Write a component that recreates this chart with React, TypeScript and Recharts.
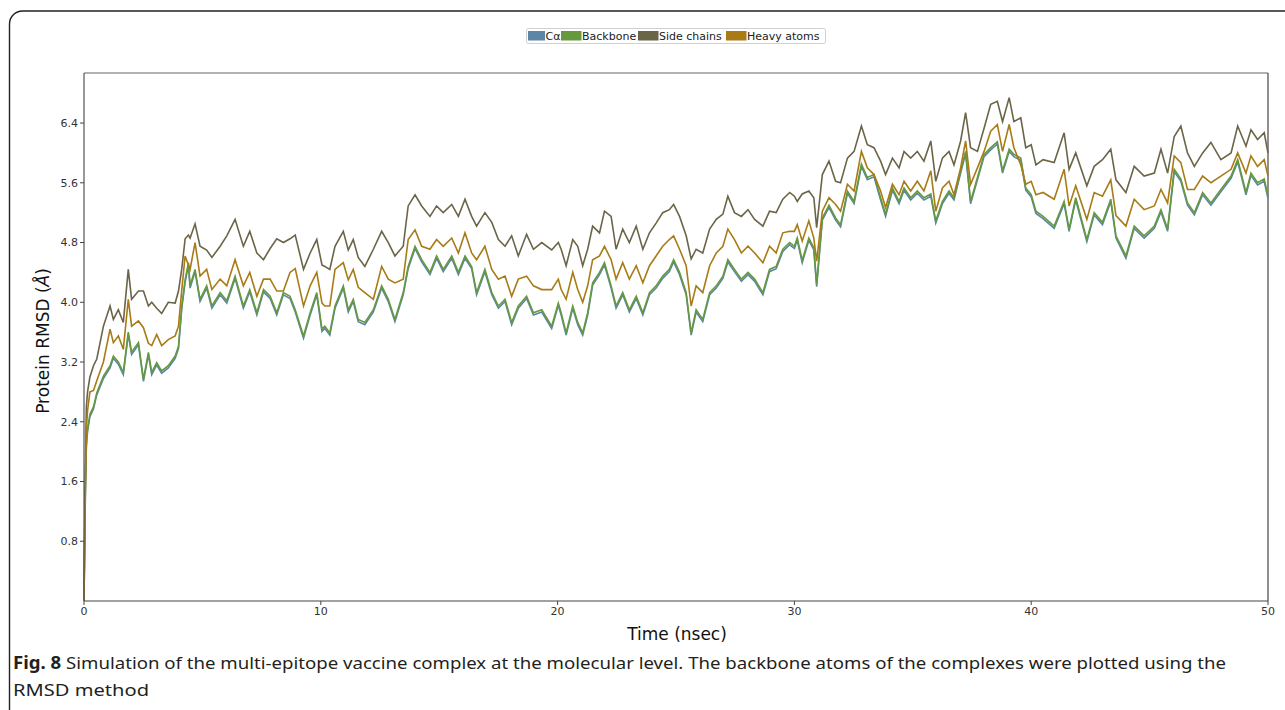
import React from 'react';
import { LineChart, Line, XAxis, YAxis, ReferenceLine } from 'recharts';

// Time (nsec)
const time = [
  0, 0.03, 0.06, 0.1, 0.15, 0.25, 0.4, 0.54, 0.82, 1.1,
  1.24, 1.45, 1.66, 1.87, 2.01, 2.3, 2.51, 2.72, 2.86, 3.07,
  3.28, 3.56, 3.85, 3.99, 4.13, 4.27, 4.41, 4.48, 4.69, 4.9,
  5.18, 5.4, 5.75, 6.03, 6.38, 6.73, 7.0, 7.3, 7.58, 7.86,
  8.14, 8.42, 8.7, 8.92, 9.27, 9.55, 9.83, 10.05,
  10.17, 10.38, 10.6, 10.95, 11.16, 11.37, 11.58, 11.86, 12.22, 12.57,
  12.85, 13.13, 13.48, 13.69, 13.98, 14.26, 14.61, 14.89, 15.17, 15.53,
  15.81, 16.09, 16.37, 16.58, 16.93, 17.22, 17.5, 17.78, 18.06, 18.34,
  18.69, 18.98, 19.33, 19.75, 20.03,
  20.15, 20.36, 20.64, 20.85, 21.06, 21.27, 21.48, 21.77, 21.98, 22.26,
  22.47, 22.75, 23.03, 23.32, 23.6, 23.88, 24.16, 24.44, 24.72, 24.9,
  25.15, 25.43, 25.64, 25.85, 26.13, 26.42, 26.7, 26.98, 27.19, 27.47,
  27.76, 28.04, 28.32, 28.67, 28.95, 29.23, 29.51, 29.8, 30.0,
  30.12, 30.33, 30.61, 30.82, 30.94, 31.18, 31.46, 31.74, 31.95, 32.24,
  32.52, 32.83, 33.08, 33.36, 33.64, 33.85, 34.14, 34.42, 34.63, 34.91,
  35.19, 35.47, 35.76, 35.97, 36.25, 36.53, 36.74, 37.02, 37.23, 37.44,
  37.73, 38.01, 38.29, 38.57, 38.79, 39.07, 39.27, 39.56, 39.77, 40.0, 40.2,
  40.5, 40.97, 41.39, 41.6, 41.88, 42.35, 42.66, 43.01, 43.36, 43.58,
  44.0, 44.35, 44.77, 45.2, 45.48, 45.76, 46.04, 46.32, 46.6, 46.89,
  47.24, 47.59, 48.01, 48.44, 48.72, 49.07, 49.28, 49.56, 49.84, 50.0,
];

const caValues = [
  0, 0.78, 1.47, 2.07, 2.27, 2.47, 2.57, 2.76, 2.98, 3.12,
  3.25, 3.17, 3.03, 3.57, 3.3, 3.43, 2.94, 3.3, 3.03, 3.16,
  3.05, 3.12, 3.25, 3.38, 3.92, 4.27, 4.5, 4.19, 4.41, 4.01,
  4.19, 3.92, 4.1, 3.99, 4.32, 3.92, 4.14, 3.83, 4.14, 4.05,
  3.83, 4.1, 4.05, 3.87, 3.52, 3.83, 4.1, 3.61,
  3.65, 3.56, 3.92, 4.19, 3.87, 4.01, 3.74, 3.7, 3.87, 4.19,
  4.01, 3.74, 4.1, 4.45, 4.72, 4.54, 4.37, 4.59, 4.41, 4.59,
  4.37, 4.59, 4.45, 4.1, 4.41, 4.1, 3.92, 4.01, 3.7, 3.92,
  4.05, 3.83, 3.87, 3.65, 3.96,
  3.83, 3.56, 3.92, 3.7, 3.56, 3.83, 4.23, 4.37, 4.5, 4.19,
  3.92, 4.1, 3.87, 4.05, 3.83, 4.1, 4.19, 4.32, 4.41, 4.54,
  4.37, 4.1, 3.56, 3.87, 3.74, 4.1, 4.19, 4.32, 4.54, 4.41,
  4.28, 4.37, 4.28, 4.1, 4.41, 4.45, 4.68, 4.77, 4.72,
  4.83, 4.53, 4.83, 4.7, 4.21, 5.1, 5.27, 5.1, 5.01, 5.46,
  5.32, 5.82, 5.64, 5.68, 5.37, 5.15, 5.5, 5.32, 5.5, 5.37,
  5.46, 5.37, 5.42, 5.06, 5.32, 5.46, 5.37, 5.73, 5.99, 5.32,
  5.64, 5.95, 6.04, 6.12, 5.73, 6.02, 5.95, 5.9, 5.5, 5.41, 5.19,
  5.12, 4.99, 5.32, 4.95, 5.37, 4.81, 5.17, 5.04, 5.35, 4.86,
  4.59, 4.99, 4.86, 4.99, 5.21, 4.95, 5.75, 5.62, 5.3, 5.17,
  5.44, 5.3, 5.48, 5.66, 5.88, 5.44, 5.7, 5.57, 5.62, 5.39,
];

const backboneValues = [
  0, 0.8, 1.5, 2.1, 2.3, 2.5, 2.6, 2.79, 3.01, 3.15,
  3.28, 3.2, 3.06, 3.6, 3.33, 3.46, 2.97, 3.33, 3.06, 3.19,
  3.08, 3.15, 3.28, 3.41, 3.95, 4.3, 4.53, 4.22, 4.44, 4.04,
  4.22, 3.95, 4.13, 4.02, 4.35, 3.95, 4.17, 3.86, 4.17, 4.08,
  3.86, 4.13, 4.08, 3.9, 3.55, 3.86, 4.13, 3.64,
  3.68, 3.59, 3.95, 4.22, 3.9, 4.04, 3.77, 3.73, 3.9, 4.22,
  4.04, 3.77, 4.13, 4.48, 4.75, 4.57, 4.4, 4.62, 4.44, 4.62,
  4.4, 4.62, 4.48, 4.13, 4.44, 4.13, 3.95, 4.04, 3.73, 3.95,
  4.08, 3.86, 3.9, 3.68, 3.99,
  3.86, 3.59, 3.95, 3.73, 3.59, 3.86, 4.26, 4.4, 4.53, 4.22,
  3.95, 4.13, 3.9, 4.08, 3.86, 4.13, 4.22, 4.35, 4.44, 4.57,
  4.4, 4.13, 3.59, 3.9, 3.77, 4.13, 4.22, 4.35, 4.57, 4.44,
  4.31, 4.4, 4.31, 4.13, 4.44, 4.48, 4.71, 4.8, 4.75,
  4.86, 4.56, 4.86, 4.73, 4.24, 5.13, 5.3, 5.13, 5.04, 5.49,
  5.35, 5.85, 5.67, 5.71, 5.4, 5.18, 5.53, 5.35, 5.53, 5.4,
  5.49, 5.4, 5.45, 5.09, 5.35, 5.49, 5.4, 5.76, 6.02, 5.35,
  5.67, 5.98, 6.07, 6.15, 5.76, 6.05, 5.98, 5.93, 5.53, 5.44, 5.22,
  5.15, 5.02, 5.35, 4.98, 5.4, 4.84, 5.2, 5.07, 5.38, 4.89,
  4.62, 5.02, 4.89, 5.02, 5.24, 4.98, 5.78, 5.65, 5.33, 5.2,
  5.47, 5.33, 5.51, 5.69, 5.91, 5.47, 5.73, 5.6, 5.65, 5.42,
];

const sideChainValues = [
  0, 1.0, 1.8, 2.6, 2.8, 3.0, 3.15, 3.24, 3.68, 3.95,
  3.77, 3.9, 3.73, 4.44, 4.04, 4.15, 4.15, 3.95, 4.0, 3.92,
  3.85, 4.0, 3.99, 4.15, 4.45, 4.85, 4.9, 4.86, 5.05, 4.75,
  4.7, 4.6, 4.75, 4.89, 5.11, 4.75, 4.95, 4.66, 4.57, 4.72,
  4.85, 4.8, 4.85, 4.9, 4.44, 4.66, 4.84, 4.5,
  4.48, 4.44, 4.75, 4.95, 4.7, 4.84, 4.6, 4.48, 4.71, 4.95,
  4.8, 4.62, 4.75, 5.29, 5.44, 5.29, 5.15, 5.29, 5.2, 5.31,
  5.15, 5.38, 5.15, 5.02, 5.2, 5.07, 4.84, 4.75, 4.89, 4.62,
  4.91, 4.71, 4.8, 4.7, 4.8,
  4.71, 4.49, 4.84, 4.75, 4.49, 4.71, 5.02, 4.93, 5.22, 5.15,
  4.71, 4.98, 4.8, 5.02, 4.71, 4.93, 5.06, 5.2, 5.24, 5.31,
  5.15, 4.89, 4.58, 4.71, 4.66, 4.98, 5.11, 5.18, 5.42, 5.2,
  5.15, 5.24, 5.11, 5.02, 5.22, 5.2, 5.38, 5.47, 5.42,
  5.35, 5.45, 5.49, 5.4, 5.0, 5.71, 5.89, 5.62, 5.6, 5.93,
  6.02, 6.36, 6.11, 6.07, 5.89, 5.71, 5.93, 5.8, 6.02, 5.93,
  6.02, 5.89, 6.16, 5.62, 5.93, 6.02, 5.84, 6.16, 6.54, 6.07,
  6.02, 6.33, 6.65, 6.69, 6.42, 6.74, 6.42, 6.47, 6.07, 6.11, 5.84,
  5.91, 5.87, 6.27, 5.78, 6.0, 5.56, 5.82, 5.91, 6.05, 5.64,
  5.47, 5.82, 5.69, 5.73, 6.05, 5.73, 6.22, 6.36, 6.0, 5.82,
  6.0, 6.14, 5.91, 6.0, 6.36, 6.09, 6.31, 6.18, 6.27, 6.0,
];

const heavyAtomValues = [
  0, 0.9, 1.6, 2.3, 2.55, 2.8, 2.82, 2.95, 3.2, 3.64,
  3.46, 3.55, 3.37, 4.04, 3.68, 3.75, 3.66, 3.45, 3.42, 3.57,
  3.42, 3.5, 3.55, 3.68, 4.17, 4.62, 4.5, 4.44, 4.8, 4.35,
  4.44, 4.17, 4.31, 4.22, 4.57, 4.22, 4.4, 4.08, 4.31, 4.31,
  4.15, 4.15, 4.4, 4.45, 3.95, 4.22, 4.4, 3.99,
  3.95, 3.95, 4.44, 4.53, 4.3, 4.44, 4.2, 4.13, 4.04, 4.48,
  4.31, 4.26, 4.31, 4.84, 4.97, 4.75, 4.71, 4.84, 4.75, 4.86,
  4.66, 4.93, 4.66, 4.57, 4.75, 4.44, 4.31, 4.35, 4.08, 4.31,
  4.35, 4.22, 4.17, 4.17, 4.31,
  4.17, 4.04, 4.4, 4.17, 4.0, 4.22, 4.57, 4.62, 4.75, 4.57,
  4.31, 4.53, 4.31, 4.49, 4.26, 4.49, 4.62, 4.75, 4.84, 4.89,
  4.71, 4.49, 3.95, 4.22, 4.13, 4.49, 4.66, 4.75, 4.98, 4.84,
  4.66, 4.75, 4.66, 4.53, 4.75, 4.66, 4.93, 4.95, 4.95,
  5.04, 4.82, 5.09, 4.86, 4.55, 5.22, 5.4, 5.31, 5.22, 5.58,
  5.49, 6.02, 5.8, 5.71, 5.49, 5.27, 5.58, 5.44, 5.62, 5.49,
  5.62, 5.49, 5.76, 5.22, 5.53, 5.62, 5.44, 5.8, 6.16, 5.58,
  5.8, 6.02, 6.29, 6.38, 6.02, 6.38, 6.07, 5.84, 5.58, 5.62, 5.44,
  5.47, 5.38, 5.78, 5.29, 5.56, 5.11, 5.47, 5.42, 5.64, 5.16,
  5.02, 5.38, 5.24, 5.29, 5.51, 5.33, 5.96, 5.87, 5.51, 5.51,
  5.69, 5.6, 5.69, 5.78, 6.0, 5.73, 5.96, 5.82, 5.91, 5.69,
];

const seriesNames = ['Cα', 'Backbone', 'Side chains', 'Heavy atoms'];
const seriesColors = ['#5b86a6', '#66993d', '#6b6548', '#a87b16'];
const xTicks = [0, 10, 20, 30, 40, 50];
const yTicks = [0.8, 1.6, 2.4, 3.2, 4.0, 4.8, 5.6, 6.4];
const yMax = 7.07;
const xLabel = 'Time (nsec)';
const yLabel = 'Protein RMSD (';
const captionBold = 'Fig. 8';
const captionLine1 = 'Simulation of the multi-epitope vaccine complex at the molecular level. The backbone atoms of the complexes were plotted using the';
const captionLine2 = 'RMSD method';

const data = time.map((t, i) => ({
  t,
  ca: caValues[i],
  bb: backboneValues[i],
  sc: sideChainValues[i],
  ha: heavyAtomValues[i],
}));

const keys = ['ca', 'bb', 'sc', 'ha'];
const FONT = 'DejaVu Sans, sans-serif';
const CAPFONT = 'Noto Sans, sans-serif';

const legendLayout = [
  { sx: 528, sw: 17, tx: 545.5 },
  { sx: 561, sw: 20.5, tx: 582 },
  { sx: 638, sw: 20.5, tx: 659 },
  { sx: 726, sw: 20.5, tx: 747 },
];

export default function App() {
  return (
    <div style={{ position: 'fixed', left: 0, top: 0, width: 1285, height: 710, overflow: 'hidden', background: '#fff' }}>
      <LineChart
        width={1285}
        height={710}
        data={data}
        margin={{ top: 73, right: 17, bottom: 79, left: 24 }}
      >
        <XAxis
          dataKey="t"
          type="number"
          domain={[0, 50]}
          ticks={xTicks}
          height={30}
          axisLine={{ stroke: '#444', strokeWidth: 1.2 }}
          tickLine={{ stroke: '#444' }}
          tickSize={4}
          tick={{ fill: '#333', fontSize: 11, fontFamily: FONT }}
          interval={0}
        />
        <YAxis
          type="number"
          domain={[0, yMax]}
          ticks={yTicks}
          width={60}
          axisLine={{ stroke: '#555', strokeWidth: 1.2 }}
          tickLine={{ stroke: '#444' }}
          tickSize={4}
          tick={{ fill: '#333', fontSize: 11, fontFamily: FONT }}
          tickFormatter={(v: number) => v.toFixed(1)}
          interval={0}
        />
        <ReferenceLine y={yMax} stroke="#666" strokeWidth={1.2} />
        <ReferenceLine x={50} stroke="#444" strokeWidth={1.2} />
        {keys.map((k, i) => (
          <Line
            key={k}
            dataKey={k}
            name={seriesNames[i]}
            stroke={seriesColors[i]}
            strokeWidth={1.6}
            dot={false}
            type="linear"
            isAnimationActive={false}
          />
        ))}
      </LineChart>
      <svg
        width={1285}
        height={710}
        style={{ position: 'absolute', left: 0, top: 0, pointerEvents: 'none' }}
      >
        <rect x={9.5} y={11} width={1320} height={740} rx={13} ry={13} fill="none" stroke="#222" strokeWidth={1.4} />
        {/* legend */}
        <rect x={526.5} y={28.5} width={299} height={15} rx={2} fill="#fff" stroke="#d0d0d0" strokeWidth={1} />
        {seriesNames.map((n, i) => (
          <g key={n}>
            <rect x={legendLayout[i].sx} y={31} width={legendLayout[i].sw} height={9.5} fill={seriesColors[i]} />
            <text x={legendLayout[i].tx} y={39.5} fontSize={11} fontFamily={FONT} fill="#222">{n}</text>
          </g>
        ))}
        {/* y label */}
        <text
          transform="translate(49,341) rotate(-90)"
          textAnchor="middle"
          fontSize={17}
          fontFamily={FONT}
          fill="#111"
        >
          {yLabel}
          <tspan fontStyle="italic">Å</tspan>
          {')'}
        </text>
        {/* x label */}
        <text x={677} y={640} textAnchor="middle" fontSize={17} fontFamily={FONT} fill="#111">{xLabel}</text>
        {/* caption */}
        <text x={13} y={668.5} fontSize={17} fontFamily={CAPFONT} fill="#231f20" textLength={1213} lengthAdjust="spacingAndGlyphs">
          <tspan fontWeight="bold">{captionBold}</tspan>
          {'  ' + captionLine1}
        </text>
        <text x={13} y={695.5} fontSize={17} fontFamily={CAPFONT} fill="#231f20" textLength={136} lengthAdjust="spacingAndGlyphs">{captionLine2}</text>
      </svg>
    </div>
  );
}
